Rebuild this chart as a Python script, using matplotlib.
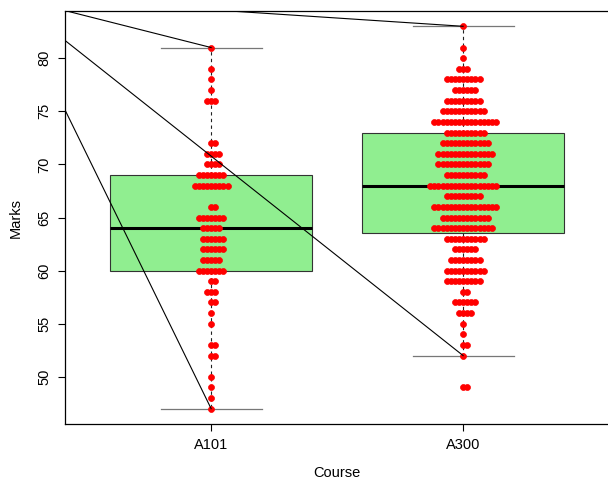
#!/usr/bin/env python3
"""Box plot of course marks with a beeswarm overlay."""

import matplotlib

matplotlib.use("Agg")
import matplotlib.pyplot as plt
import numpy as np

COURSES = ["A101", "A300"]

# distinct marks and how many students got each one
A101_MARKS = [47, 48, 49, 50, 52, 53, 55, 56, 57, 58, 59, 60, 61, 62, 63, 64,
              65, 66, 68, 69, 70, 71, 72, 76, 77, 78, 79, 81]
A101_COUNTS = [1, 1, 1, 1, 2, 2, 1, 1, 2, 3, 2, 7, 5, 6, 6, 5,
               7, 2, 9, 7, 4, 4, 2, 3, 1, 1, 1, 1]

A300_MARKS = [49, 52, 53, 54, 55, 56, 57, 58, 59, 60, 61, 62, 63, 64, 65, 66,
              67, 68, 69, 70, 71, 72, 73, 74, 75, 76, 77, 78, 79, 80, 81, 83]
A300_COUNTS = [2, 1, 2, 1, 1, 4, 6, 2, 9, 10, 8, 6, 10, 15, 12, 16,
               9, 17, 10, 13, 14, 12, 10, 16, 11, 9, 6, 9, 3, 1, 1, 1]

# the reference lines all fan out from this point
FAN_ORIGIN = (0.2, 85.8)

DOT_STEP = 0.0163  # horizontal gap between swarm dots, in x units

plt.rcParams["font.family"] = ["Liberation Sans", "DejaVu Sans"]
plt.rcParams["font.size"] = 10.5


def swarm_offsets(n):
    # 0, +1, -1, +2, -2, ... like beeswarm does for tied values
    out = []
    for k in range(n):
        step = (k + 1) // 2
        out.append(step if k % 2 == 1 else -step)
    return np.array(out, dtype=float)


groups = [
    np.repeat(A101_MARKS, A101_COUNTS),
    np.repeat(A300_MARKS, A300_COUNTS),
]
positions = [1, 2]

# plot area runs off the right edge of the canvas
fig = plt.figure(figsize=(6.08, 4.82), dpi=100)
ax = fig.add_axes([65 / 608, 58 / 482, 575 / 608, 413 / 482])

bp = ax.boxplot(
    groups,
    positions=positions,
    widths=0.8,
    capwidths=0.4,
    whis=1.5,
    patch_artist=True,
    showfliers=False,
    boxprops=dict(facecolor="#90EE90", edgecolor="#333333", linewidth=0.8),
    medianprops=dict(color="black", linewidth=2.2),
    whiskerprops=dict(color="#222222", linewidth=0.8, linestyle=(0, (3.0, 3.0))),
    capprops=dict(color="#777777", linewidth=0.9),
)

for pos, marks, counts in zip(positions,
                              [A101_MARKS, A300_MARKS],
                              [A101_COUNTS, A300_COUNTS]):
    xs, ys = [], []
    for m, c in zip(marks, counts):
        xs.extend(pos + swarm_offsets(c) * DOT_STEP)
        ys.extend([m] * c)
    ax.plot(xs, ys, linestyle="none", marker="o", markersize=4.3,
            markerfacecolor="red", markeredgecolor="red", markeredgewidth=0.5,
            zorder=4)

# lines from the fan origin to every whisker end
caps = bp["caps"]
for i, pos in enumerate(positions):
    for cap in (caps[2 * i], caps[2 * i + 1]):
        end_y = cap.get_ydata()[0]
        ax.plot([FAN_ORIGIN[0], pos], [FAN_ORIGIN[1], end_y],
                color="black", linewidth=0.8, zorder=5)

ax.set_xlim(0.42, 2.702)
ax.set_ylim(45.56, 84.44)
ax.set_xticks(positions)
ax.set_xticklabels(COURSES)
ax.set_yticks(np.arange(50, 81, 5))
ax.tick_params(axis="y", labelrotation=90, length=5, width=0.8, pad=5)
ax.tick_params(axis="x", length=5, width=0.8, pad=5)
for lbl in ax.get_yticklabels():
    lbl.set_va("center")

ax.set_xlabel("Course", labelpad=10, x=(337 - 65) / 575)
ax.set_ylabel("Marks", labelpad=10)
for side in ax.spines.values():
    side.set_linewidth(0.9)

fig.savefig("out.png", dpi=100)
